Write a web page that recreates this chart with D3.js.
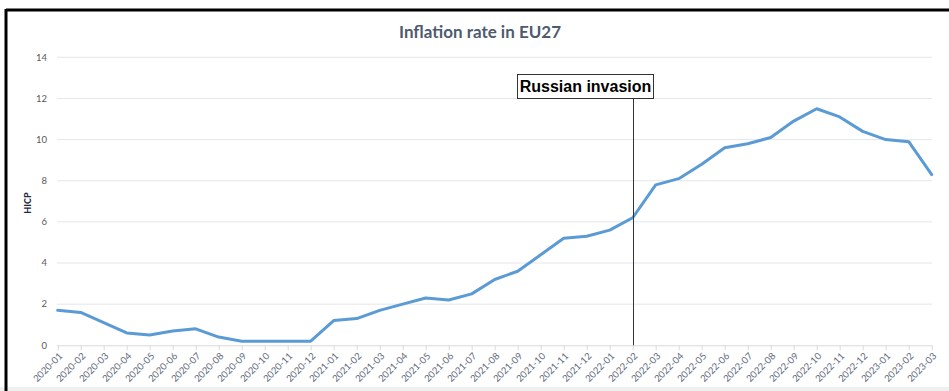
<!DOCTYPE html>
<html>
<head>
<meta charset="utf-8">
<script src="https://cdn.jsdelivr.net/npm/d3@7"></script>
<style>
  html, body { margin: 0; padding: 0; background: #ffffff; }
  svg { display: block; }
</style>
</head>
<body>
<svg id="chart" width="949" height="391"></svg>
<script>
const months = [
  "2020-01","2020-02","2020-03","2020-04","2020-05","2020-06","2020-07","2020-08","2020-09","2020-10","2020-11","2020-12",
  "2021-01","2021-02","2021-03","2021-04","2021-05","2021-06","2021-07","2021-08","2021-09","2021-10","2021-11","2021-12",
  "2022-01","2022-02","2022-03","2022-04","2022-05","2022-06","2022-07","2022-08","2022-09","2022-10","2022-11","2022-12",
  "2023-01","2023-02","2023-03"
];
const hicp = [
  1.7, 1.6, 1.1, 0.6, 0.5, 0.7, 0.8, 0.4, 0.2, 0.2, 0.2, 0.2,
  1.2, 1.3, 1.7, 2.0, 2.3, 2.2, 2.5, 3.2, 3.6, 4.4, 5.2, 5.3,
  5.6, 6.2, 7.8, 8.1, 8.8, 9.6, 9.8, 10.1, 10.9, 11.5, 11.1, 10.4,
  10.0, 9.9, 8.3
];
const yTicks = [0, 2, 4, 6, 8, 10, 12, 14];
const titleText = "Inflation rate in EU27";
const yLabel = "HICP";
const eventMonth = "2022-02";
const eventLabel = "Russian invasion";

const svg = d3.select("#chart");

// outer frame
svg.append("rect").attr("x", 0).attr("y", 0).attr("width", 949).attr("height", 391).attr("fill", "#ffffff");
svg.append("rect").attr("x", 0).attr("y", 387).attr("width", 949).attr("height", 4).attr("fill", "#f0f0f0");
svg.append("line").attr("x1", 6).attr("x2", 949).attr("y1", 10).attr("y2", 10)
  .attr("stroke", "#000").attr("stroke-width", 3);
svg.append("line").attr("x1", 6).attr("x2", 6).attr("y1", 9).attr("y2", 391)
  .attr("stroke", "#000").attr("stroke-width", 3);

const x = d3.scalePoint().domain(months).range([57.7, 931.7]);
const y = d3.scaleLinear().domain([0, 14]).range([345.3, 57.3]);

// gridlines
svg.append("g").selectAll("line").data(yTicks.filter(d => d > 0)).join("line")
  .attr("x1", 57).attr("x2", 932)
  .attr("y1", d => y(d)).attr("y2", d => y(d))
  .attr("stroke", "#e3e6ec").attr("stroke-width", 1);

// y axis labels
svg.append("g").selectAll("text").data(yTicks).join("text")
  .attr("x", 47).attr("y", d => y(d)).attr("dy", "0.35em")
  .attr("text-anchor", "end")
  .attr("font-family", "Lato, 'Open Sans', sans-serif").attr("font-size", 9.5)
  .attr("fill", "#595959")
  .text(d => d);

// x axis
const xAxis = d3.axisBottom(x).tickSize(5).tickSizeOuter(0).tickFormat("");
const gx = svg.append("g").attr("transform", `translate(0,${y(0)})`).call(xAxis);
gx.select(".domain").attr("stroke", "#d9d9d9").attr("d", `M57,0.5H932`);
gx.selectAll(".tick line").attr("stroke", "#d9d9d9");

svg.append("g").selectAll("text").data(months).join("text")
  .attr("transform", d => `translate(${x(d) + 3},${y(0) + 9}) rotate(-45)`)
  .attr("text-anchor", "end")
  .attr("dy", "0.35em")
  .attr("font-family", "Lato, 'Open Sans', sans-serif").attr("font-size", 9.5)
  .attr("fill", "#5f6a7d")
  .text(d => d);

// data line
const line = d3.line().x((d, i) => x(months[i])).y(d => y(d));
svg.append("path").datum(hicp)
  .attr("d", line)
  .attr("fill", "none").attr("stroke", "#5b9bd5").attr("stroke-width", 3)
  .attr("stroke-linejoin", "round").attr("stroke-linecap", "round");

// event marker
const ex = Math.round(x(eventMonth)) + 0.5;
svg.append("line").attr("x1", ex).attr("x2", ex).attr("y1", 98).attr("y2", y(0))
  .attr("stroke", "#333").attr("stroke-width", 1);
svg.append("rect").attr("x", 517.5).attr("y", 74.5).attr("width", 136).attr("height", 24)
  .attr("fill", "#fff").attr("stroke", "#333").attr("stroke-width", 1);
svg.append("text").attr("x", 585.5).attr("y", 86.5).attr("dy", "0.35em")
  .attr("text-anchor", "middle")
  .attr("font-family", "'Liberation Sans', Arial, sans-serif").attr("font-weight", "bold")
  .attr("font-size", 16).attr("fill", "#000")
  .text(eventLabel);

// title
svg.append("text").attr("x", 480).attr("y", 32).attr("dy", "0.35em")
  .attr("text-anchor", "middle")
  .attr("font-family", "Lato, 'Open Sans', sans-serif").attr("font-weight", "bold")
  .attr("font-size", 17).attr("fill", "#4e5b6e")
  .text(titleText);

// y label
svg.append("text").attr("transform", "translate(28,203) rotate(-90)")
  .attr("dy", "0.35em").attr("text-anchor", "middle")
  .attr("font-family", "Lato, 'Open Sans', sans-serif").attr("font-weight", "900")
  .attr("font-size", 9).attr("fill", "#1f2a44")
  .text(yLabel);
</script>
</body>
</html>
